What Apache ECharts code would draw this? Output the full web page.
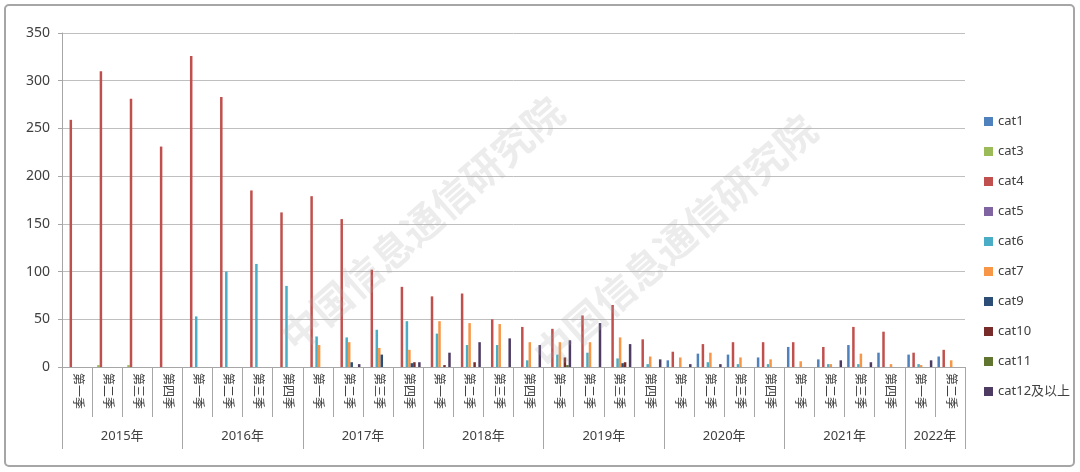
<!DOCTYPE html>
<html>
<head>
<meta charset="utf-8">
<script src="https://cdn.jsdelivr.net/npm/echarts@6/dist/echarts.min.js"></script>
<style>
html,body{margin:0;padding:0;background:#fff;}
#main{width:1080px;height:472px;}
</style>
</head>
<body>
<div id="main"></div>
<script>
// ---- data ----
var years = ['2015年','2016年','2017年','2018年','2019年','2020年','2021年','2022年'];
var quartersPerYear = [4,4,4,4,4,4,4,2];
var quarterNames = ['第一季','第二季','第三季','第四季'];
var seriesNames = ['cat1','cat3','cat4','cat5','cat6','cat7','cat9','cat10','cat11','cat12及以上'];

var cat1  = [0,0,0,0, 0,0,0,0, 0,0,0,0, 0,0,0,0, 0,0,0,0, 7,14,13,10, 21,8,23,15, 13,11];
var cat3  = [0,2,2,0, 0,0,0,0, 0,0,0,0, 0,0,0,0, 0,0,0,0, 0,0,0,0, 0,0,0,0, 0,0];
var cat4  = [259,310,281,231, 326,283,185,162, 179,155,102,84, 74,77,50,42, 40,54,65,29, 16,24,26,26, 26,21,42,37, 15,18];
var cat5  = [0,0,0,0, 0,0,0,0, 0,0,0,0, 0,0,0,0, 0,0,0,0, 0,0,0,0, 0,0,0,0, 0,0];
var cat6  = [0,0,0,0, 53,100,108,85, 32,31,39,48, 35,23,23,7, 13,15,9,3, 0,5,3,3, 0,3,3,0, 3,0];
var cat7  = [0,0,0,0, 0,0,0,0, 23,26,20,18, 48,46,45,26, 26,26,31,11, 10,15,10,8, 6,3,14,3, 2,7];
var cat9  = [0,0,0,0, 0,0,0,0, 0,5,13,4, 0,0,0,0, 0,0,4,0, 0,0,0,0, 0,0,0,0, 0,0];
var cat10 = [0,0,0,0, 0,0,0,0, 0,0,0,5, 2,5,0,0, 10,0,5,0, 0,0,0,0, 0,0,0,0, 0,0];
var cat11 = [0,0,0,0, 0,0,0,0, 0,0,0,0, 0,0,0,0, 2,0,0,0, 0,0,0,0, 0,0,0,0, 0,0];
var cat12 = [0,0,0,0, 0,0,0,0, 0,3,0,5, 15,26,30,23, 28,46,24,8, 3,3,0,0, 0,7,5,0, 7,0];
var seriesData = [cat1,cat3,cat4,cat5,cat6,cat7,cat9,cat10,cat11,cat12];
var colors = ['#4F81BD','#9BBB59','#C0504D','#8064A2','#4BACC6','#F79646','#2C4D75','#772C2A','#5F7530','#4D3B62'];
var yTicks = {min:0, max:350, interval:50};

// ---- build categories ----
var quarterCats = [];
years.forEach(function(y, yi){
  for (var q = 0; q < quartersPerYear[yi]; q++) quarterCats.push(quarterNames[q]);
});
var nQ = quarterCats.length;
// half-quarter grid (boundaryGap false) for year labels/separators
var halfCats = [];
var yearLabelAt = {}, yearBoundary = {0:true};
var pos = 0;
years.forEach(function(y, yi){
  yearLabelAt[pos + quartersPerYear[yi]] = y;
  pos += quartersPerYear[yi] * 2;
  yearBoundary[pos] = true;
});
for (var i = 0; i <= nQ * 2; i++) halfCats.push(yearLabelAt[i] || '');

var FONT = '"Noto Sans", "Noto Sans CJK SC", sans-serif';
var chart = echarts.init(document.getElementById('main'));
var option = {
  animation: false,
  backgroundColor: '#fff',
  color: colors,
  textStyle: {fontFamily: FONT},
  grid: {left: 62, right: 115, top: 33, bottom: 105, containLabel: false},
  legend: {
    orient: 'vertical', left: 979, top: 110,
    itemWidth: 9, itemHeight: 9, itemGap: 17,
    icon: 'rect',
    textStyle: {fontSize: 13, color: '#404040', fontFamily: FONT},
    data: seriesNames
  },
  xAxis: [
    {
      type: 'category', data: quarterCats, position: 'bottom',
      axisLine: {lineStyle: {color: '#a6a6a6'}},
      axisTick: {show: true, interval: 0, length: 50, alignWithLabel: false, lineStyle: {color: '#a6a6a6'}},
      axisLabel: {interval: 0, rotate: -90, fontSize: 12, color: '#404040', margin: 6, fontFamily: FONT}
    },
    {
      type: 'category', data: halfCats, position: 'bottom', boundaryGap: false,
      axisLine: {show: false},
      axisTick: {show: true, length: 82, lineStyle: {color: '#a6a6a6'},
        interval: function(idx){ return !!yearBoundary[idx]; }},
      axisLabel: {fontSize: 13, color: '#404040', margin: 63, fontFamily: FONT,
        interval: function(idx, val){ return val !== ''; }},
      splitLine: {show: false}
    }
  ],
  yAxis: {
    type: 'value', min: yTicks.min, max: yTicks.max, interval: yTicks.interval,
    axisLine: {show: true, lineStyle: {color: '#a6a6a6'}},
    axisTick: {show: true, length: 4, lineStyle: {color: '#a6a6a6'}},
    axisLabel: {fontSize: 14, color: '#404040', margin: 12, fontFamily: FONT},
    splitLine: {lineStyle: {color: '#bfbfbf'}}
  },
  series: seriesNames.map(function(name, i){
    return {
      name: name, type: 'bar', xAxisIndex: 0,
      data: seriesData[i],
      barGap: '0%', barCategoryGap: '17%',
      itemStyle: {color: colors[i]}
    };
  }),
  graphic: [
    {type: 'rect', shape: {x: 5, y: 5, width: 1069, height: 461, r: 4},
     style: {fill: 'none', stroke: '#a6a6a6', lineWidth: 2}, silent: true, z: -1},
    {type: 'text', x: 422, y: 224, rotation: 0.72, silent: true, z: 100,
     style: {text: '中国信息通信研究院', fill: 'rgba(170,170,170,0.22)', font: 'bold 40px "Noto Sans CJK SC"', textAlign: 'center', textVerticalAlign: 'middle'}},
    {type: 'text', x: 675, y: 242, rotation: 0.72, silent: true, z: 100,
     style: {text: '中国信息通信研究院', fill: 'rgba(170,170,170,0.22)', font: 'bold 40px "Noto Sans CJK SC"', textAlign: 'center', textVerticalAlign: 'middle'}}
  ]
};
chart.setOption(option);
</script>
</body>
</html>
